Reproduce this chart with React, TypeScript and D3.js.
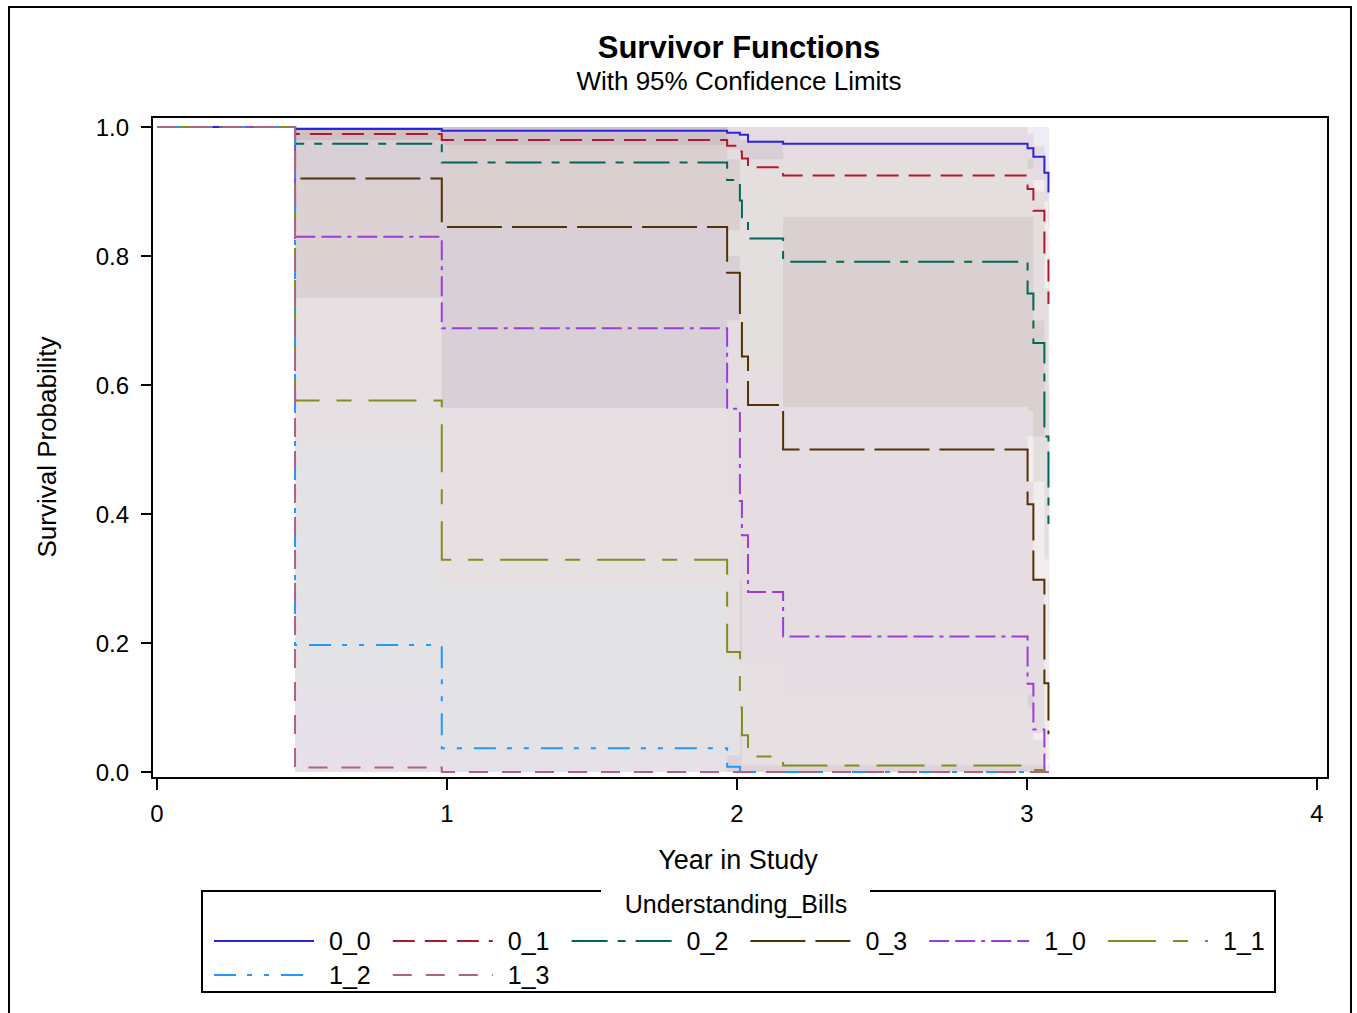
import React from 'react';
import * as d3 from 'd3';

// groups, SAS default style colours and dash patterns
const groups = ['0_0', '0_1', '0_2', '0_3', '1_0', '1_1', '1_2', '1_3'];
const lineColors = ['#2A25D9', '#B2182B', '#01665E', '#543005', '#9D3CDB', '#7F8E1F', '#2597FA', '#B26084'];
const dashes = ['none', '22 10', '36 10 8 10', '55 10', '20 6 20 6 4 6', '48 17 15 17', '22 11 5 12 5 12', '19 14'];

// step times (year in study); each value holds until the next time
const times = [0, 0.476, 0.982, 1.966, 2.010, 2.017, 2.038, 2.159, 3.002, 3.022, 3.060, 3.074];
const tEnd = 3.077;

// survival estimates per group
const surv00 = [1, 0.997, 0.994, 0.991, 0.988, 0.988, 0.977, 0.974, 0.967, 0.954, 0.929, 0.900];
const surv01 = [1, 0.989, 0.980, 0.971, 0.962, 0.951, 0.9375, 0.925, 0.904, 0.870, 0.799, 0.727];
const surv02 = [1, 0.974, 0.945, 0.918, 0.886, 0.860, 0.827, 0.791, 0.742, 0.665, 0.520, 0.386];
const surv03 = [1, 0.920, 0.845, 0.774, 0.707, 0.644, 0.569, 0.500, 0.415, 0.298, 0.1375, 0.060];
const surv10 = [1, 0.830, 0.688, 0.563, 0.420, 0.367, 0.279, 0.210, 0.137, 0.066, 0, 0];
const surv11 = [1, 0.576, 0.329, 0.186, 0.100, 0.057, 0.024, 0.010, 0.010, 0.003, 0, 0];
const surv12 = [1, 0.197, 0.037, 0.008, 0, 0, 0, 0, 0, 0, 0, 0];
const surv13 = [1, 0.007, 0, 0, 0, 0, 0, 0, 0, 0, 0, 0];

// 95% confidence limits per group
const lower00 = [1, 0.980, 0.972, 0.965, 0.955, 0.955, 0.950, 0.950, 0.935, 0.918, 0.885, 0.845];
const upper00 = [1, 1, 1, 1, 1, 1, 1, 1, 1, 1, 1, 1];
const lower01 = [1, 0.972, 0.851, 0.840, 0.880, 0.880, 0.880, 0.566, 0.560, 0.520, 0.450, 0.400];
const upper01 = [1, 1, 1, 1, 1, 1, 1, 1, 0.990, 0.970, 0.930, 0.880];
const lower02 = [1, 0.913, 0.564, 0.700, 0.625, 0.625, 0.625, 0.566, 0.520, 0.450, 0.330, 0.220];
const upper02 = [1, 1, 1, 0.990, 0.980, 0.980, 0.980, 0.950, 0.950, 0.900, 0.750, 0.600];
const lower03 = [1, 0.735, 0.564, 0.430, 0.170, 0.170, 0.170, 0.120, 0.100, 0.060, 0.020, 0.005];
const upper03 = [1, 1, 1, 0.950, 0.880, 0.880, 0.880, 0.860, 0.860, 0.700, 0.450, 0.300];
const lower10 = [1, 0.509, 0.293, 0.170, 0, 0, 0, 0, 0, 0, 0, 0];
const upper10 = [1, 0.972, 0.851, 0.800, 0.625, 0.625, 0.625, 0.566, 0.450, 0.300, 0, 0];
const lower11 = [1, 0.127, 0.026, 0, 0, 0, 0, 0, 0, 0, 0, 0];
const upper11 = [1, 0.913, 0.564, 0.430, 0.300, 0.170, 0.170, 0.120, 0.120, 0.050, 0, 0];
const lower12 = [1, 0, 0, 0, 0, 0, 0, 0, 0, 0, 0, 0];
const upper12 = [1, 0.509, 0.293, 0.170, 0.060, 0, 0, 0, 0, 0, 0, 0];
const lower13 = [1, 0, 0, 0, 0, 0, 0, 0, 0, 0, 0, 0];
const upper13 = [1, 0.127, 0.026, 0.026, 0.010, 0.010, 0.010, 0.010, 0.010, 0.010, 0.010, 0.010];

const survival = [surv00, surv01, surv02, surv03, surv10, surv11, surv12, surv13];
const lowers = [lower00, lower01, lower02, lower03, lower10, lower11, lower12, lower13];
const uppers = [upper00, upper01, upper02, upper03, upper10, upper11, upper12, upper13];

const xTicks = [0, 1, 2, 3, 4];
const yTicks = [0, 0.2, 0.4, 0.6, 0.8, 1.0];

const FONT = '"Liberation Sans", Arial, sans-serif';

export default function App() {
  const width = 1357;
  const height = 1013;
  const plot = { left: 152, top: 117, right: 1328, bottom: 778 };

  const x = d3.scaleLinear().domain([0, 4]).range([157, 1317]);
  const y = d3.scaleLinear().domain([0, 1]).range([772, 127]);

  const stepPts = (vals: number[]) =>
    [...times.map((t, i) => [t, vals[i]]), [tEnd, vals[vals.length - 1]]] as [number, number][];

  const line = d3.line<[number, number]>()
    .x(d => x(d[0]))
    .y(d => y(d[1]))
    .curve(d3.curveStepAfter);

  const area = d3.area<number>()
    .x(i => x(i < times.length ? times[i] : tEnd))
    .curve(d3.curveStepAfter);

  const idx = d3.range(times.length + 1);

  // band fills: group colour pulled toward a warm grey, drawn translucent
  const bandFill = (c: string) => d3.interpolateRgb(c, '#a07f8a')(0.7);

  const legendX0 = 214;
  const legendStep = 178.8;
  const legendRows = [941, 975];

  return (
    <svg width={width} height={height} style={{ position: 'absolute', left: 0, top: 0 }} fontFamily={FONT}>
      <rect x={0} y={0} width={width} height={height} fill="#fff" />
      <rect x={9} y={7} width={1342} height={1030} fill="none" stroke="#000" strokeWidth={2} />

      <text x={739} y={58} textAnchor="middle" fontSize={31} fontWeight="bold">Survivor Functions</text>
      <text x={739} y={90} textAnchor="middle" fontSize={26}>With 95% Confidence Limits</text>

      {/* confidence bands */}
      <g>
        {groups.map((g, gi) => {
          const lo = lowers[gi];
          const hi = uppers[gi];
          const a = area
            .y0(i => y(lo[Math.min(i, lo.length - 1)]))
            .y1(i => y(hi[Math.min(i, hi.length - 1)]));
          return <path key={g} d={a(idx) || ''} fill={bandFill(lineColors[gi])} fillOpacity={0.12} stroke="none" />;
        })}
      </g>

      {/* survival curves */}
      <g fill="none" strokeWidth={2}>
        {groups.map((g, gi) => (
          <path key={g} d={line(stepPts(survival[gi])) || ''} stroke={lineColors[gi]} strokeDasharray={dashes[gi]} />
        ))}
      </g>

      <rect x={plot.left} y={plot.top} width={plot.right - plot.left} height={plot.bottom - plot.top}
        fill="none" stroke="#000" strokeWidth={2} />

      {/* y axis */}
      {yTicks.map(t => (
        <g key={t}>
          <line x1={141} x2={plot.left} y1={y(t)} y2={y(t)} stroke="#000" strokeWidth={2} />
          <text x={129} y={y(t) + 8.5} textAnchor="end" fontSize={24}>{t.toFixed(1)}</text>
        </g>
      ))}
      <text transform={`translate(56,447) rotate(-90)`} textAnchor="middle" fontSize={26}>Survival Probability</text>

      {/* x axis */}
      {xTicks.map(t => (
        <g key={t}>
          <line x1={x(t)} x2={x(t)} y1={plot.bottom} y2={790} stroke="#000" strokeWidth={2} />
          <text x={x(t)} y={822} textAnchor="middle" fontSize={24}>{t}</text>
        </g>
      ))}
      <text x={738} y={869} textAnchor="middle" fontSize={27}>Year in Study</text>

      {/* legend */}
      <rect x={202} y={891} width={1073} height={101} fill="none" stroke="#000" strokeWidth={2} />
      <rect x={601} y={886} width={269} height={10} fill="#fff" />
      <text x={736} y={913} textAnchor="middle" fontSize={25}>Understanding_Bills</text>
      {groups.map((g, gi) => {
        const col = gi % 6;
        const row = Math.floor(gi / 6);
        const x0 = legendX0 + col * legendStep;
        const ly = legendRows[row];
        return (
          <g key={g}>
            <line x1={x0} x2={x0 + 100} y1={ly} y2={ly} stroke={lineColors[gi]} strokeWidth={2}
              strokeDasharray={dashes[gi]} />
            <text x={x0 + 115} y={ly + 9} fontSize={25}>{g}</text>
          </g>
        );
      })}
    </svg>
  );
}
